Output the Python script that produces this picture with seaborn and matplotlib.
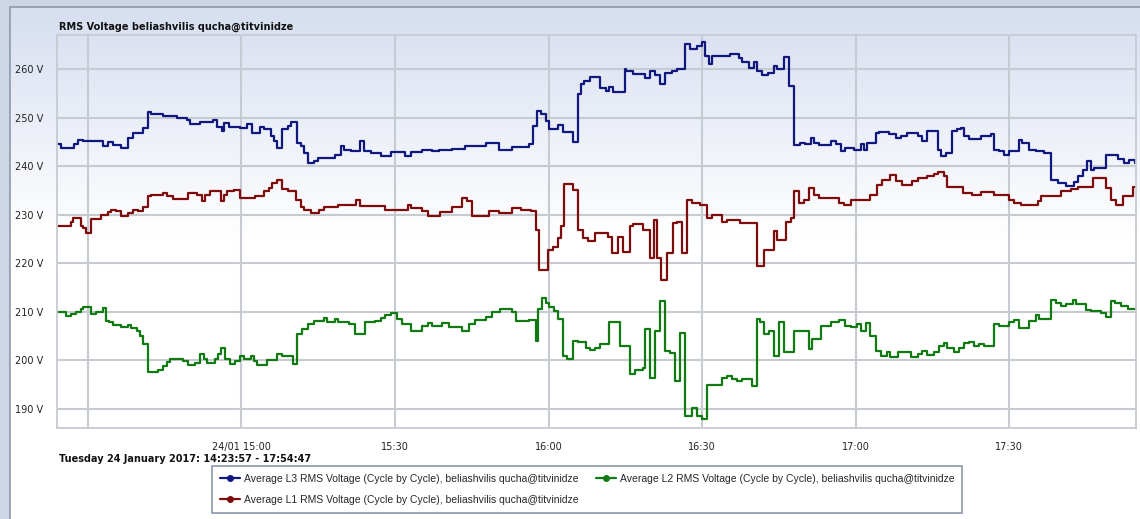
import numpy as np
import pandas as pd
import matplotlib.pyplot as plt
import seaborn as sns
from matplotlib.lines import Line2D
from matplotlib.patches import Rectangle

# Step data: minutes after 14:00 when the value changes, and the value (V)
l3_t = [23.95, 24.7, 27.3, 28.0, 29.0, 32.9, 33.9, 34.9, 36.5, 37.8, 38.8, 40.8, 41.8, 42.4, 44.7, 47.3,
        49.3, 50.0, 51.9, 54.5, 55.2, 56.2, 56.5, 57.5, 59.8, 61.1, 62.1, 63.7, 64.4, 65.7, 66.4, 67.0,
        68.0, 69.0, 69.6, 70.9, 71.6, 72.2, 72.9, 74.2, 74.9, 78.2, 79.5, 80.1, 81.4, 83.1, 84.0, 85.4,
        87.3, 89.3, 91.9, 93.2, 95.2, 97.2, 98.5, 101.1, 103.7, 107.7, 110.3, 112.9, 116.2, 116.9, 117.8,
        118.5, 119.5, 120.1, 121.8, 122.8, 124.7, 125.7, 126.4, 127.0, 128.0, 130.0, 131.3, 131.9, 132.6,
        134.9, 135.2, 136.5, 138.8, 139.8, 140.8, 141.8, 142.8, 144.1, 145.0, 146.7, 147.7, 149.0, 150.0,
        150.6, 151.3, 151.9, 155.5, 157.2, 157.8, 159.1, 160.1, 160.8, 161.8, 162.8, 164.1, 164.7, 166.0,
        167.0, 167.9, 169.2, 170.2, 171.2, 171.8, 172.8, 175.1, 176.1, 177.1, 178.0, 179.7, 181.0, 181.6,
        182.3, 183.9, 184.6, 186.5, 187.8, 188.8, 190.1, 192.1, 193.0, 194.0, 196.0, 196.6, 197.6, 198.9,
        199.9, 200.5, 201.2, 202.2, 204.5, 206.4, 207.1, 208.0, 209.0, 210.0, 212.0, 212.6, 213.9, 215.2,
        216.9, 218.2, 219.5, 221.1, 222.7, 223.4, 224.4, 225.3, 226.0, 226.6, 228.9, 231.2, 232.5, 233.5,
        234.5]
l3_v = [244.5, 243.8, 244.5, 245.4, 245.2, 244.1, 245.0, 244.3, 243.8, 245.9, 246.9, 247.9, 251.2, 250.7, 250.3, 250.0,
        249.5, 248.8, 249.1, 249.5, 248.1, 247.2, 248.9, 248.1, 247.9, 248.8, 246.9, 248.0, 247.6, 246.2, 245.2, 243.8,
        247.6, 248.3, 249.1, 244.8, 244.1, 242.8, 240.6, 241.1, 241.7, 242.4, 244.1, 243.4, 243.1, 245.2, 243.1, 242.8,
        242.1, 242.9, 242.2, 242.9, 243.4, 243.1, 243.4, 243.5, 244.1, 244.8, 243.4, 244.0, 244.5, 248.3, 251.4,
        250.7, 249.3, 247.6, 248.6, 247.0, 245.0, 254.8, 256.9, 257.6, 258.3, 256.2, 255.5, 256.4, 255.2,
        260.1, 259.7, 259.0, 258.1, 259.7, 258.8, 256.9, 259.3, 259.7, 260.1, 265.2, 264.1, 264.8, 265.7,
        262.8, 261.0, 262.8, 263.1, 262.4, 261.4, 260.3, 261.5, 259.7, 258.8, 259.3, 260.7, 260.1, 262.6,
        256.6, 244.3, 244.8, 244.5, 245.9, 244.8, 244.3, 245.2, 244.5, 243.1, 243.8, 243.3, 244.5, 243.3,
        244.8, 246.9, 247.1, 246.6, 245.9, 246.3, 246.8, 246.2, 245.2, 247.2, 243.4, 242.1, 242.8, 247.2,
        247.6, 247.9, 246.2, 245.7, 246.2, 246.6, 243.4, 243.1, 242.4, 243.1, 245.5, 244.8, 243.4, 243.1,
        242.8, 237.2, 236.6, 235.9, 236.7, 237.9, 239.3, 241.0, 239.3, 239.7, 242.4, 241.4, 240.7, 241.2,
        240.6]

l1_t = [23.95, 26.7, 27.0, 28.6, 29.0, 29.6, 30.6, 32.6, 33.9, 34.5, 35.5, 36.5, 37.8, 38.8, 39.8, 40.8,
        41.8, 42.4, 44.7, 45.4, 46.7, 49.6, 51.3, 52.3, 52.9, 53.9, 55.9, 56.5, 57.2, 58.5, 59.8, 62.7,
        64.4, 65.4, 66.0, 67.0, 68.0, 69.0, 70.6, 71.6, 72.3, 73.6, 75.2, 76.2, 78.8, 82.4, 83.1, 88.0,
        92.6, 93.2, 95.2, 96.5, 98.8, 101.1, 103.1, 104.1, 105.0, 108.3, 110.3, 112.9, 114.6, 116.5, 117.5,
        118.2, 119.8, 120.8, 121.8, 122.4, 123.1, 124.7, 125.7, 126.7, 127.7, 129.0, 131.6, 132.3, 133.6,
        134.6, 135.9, 136.5, 138.5, 139.8, 140.6, 141.2, 141.9, 143.1, 144.4, 145.0, 146.0, 147.0, 148.0,
        149.6, 151.0, 151.9, 153.9, 154.9, 157.5, 160.8, 162.1, 164.1, 164.7, 166.4, 167.3, 168.0, 168.9,
        169.9, 170.9, 171.8, 172.8, 176.7, 177.7, 179.0, 182.9, 184.2, 185.2, 186.8, 187.8, 189.1, 191.1,
        192.1, 194.0, 195.3, 196.0, 197.3, 197.9, 200.9, 202.8, 204.5, 207.1, 210.0, 211.0, 212.3, 215.6,
        216.2, 220.1, 222.1, 223.4, 226.3, 228.9, 229.9, 230.9, 232.2, 234.1]
l1_v = [227.7, 228.6, 229.3, 227.7, 227.2, 226.3, 229.1, 230.0, 230.5, 231.0, 230.7, 229.8, 230.3, 231.0, 230.7, 231.7,
        233.8, 234.1, 234.5, 233.8, 233.2, 234.5, 234.1, 232.8, 234.1, 235.0, 232.8, 234.1, 234.8, 235.2, 233.4, 233.8,
        234.8, 235.5, 236.6, 237.1, 235.3, 234.8, 233.1, 231.7, 231.0, 230.3, 231.0, 231.7, 232.1, 233.1, 231.9, 231.0,
        232.0, 231.4, 230.7, 229.8, 230.5, 231.7, 233.4, 232.8, 229.7, 230.7, 230.3, 231.4, 231.0, 230.7, 226.9,
        218.6, 222.8, 223.4, 225.2, 227.6, 236.4, 235.2, 226.9, 225.2, 224.5, 226.2, 225.5, 222.1, 225.5,
        222.4, 227.6, 228.1, 226.9, 221.0, 229.0, 221.0, 216.6, 222.1, 228.3, 228.6, 222.1, 233.1, 232.4,
        232.1, 229.3, 230.0, 228.6, 229.0, 228.4, 219.5, 222.8, 226.6, 224.8, 228.6, 229.3, 234.8, 232.4,
        233.1, 235.5, 234.1, 233.4, 232.4, 232.1, 233.1, 234.1, 236.2, 237.2, 238.1, 236.9, 236.2, 236.9,
        237.6, 237.9, 238.5, 238.8, 237.9, 235.7, 234.5, 234.1, 234.6, 234.1, 233.1, 232.4, 232.1, 232.8,
        233.8, 234.8, 235.3, 235.7, 237.6, 235.5, 233.1, 232.1, 233.8, 235.7]

l2_t = [23.95, 25.7, 26.7, 27.7, 28.6, 29.0, 30.6, 31.6, 32.9, 33.6, 34.2, 34.9, 36.5, 37.8, 38.5, 39.5,
        40.1, 40.8, 41.8, 43.7, 44.7, 45.4, 46.0, 48.6, 49.6, 50.9, 51.9, 52.6, 53.2, 54.9, 55.5, 55.9,
        56.8, 57.8, 58.8, 59.8, 60.5, 61.8, 62.4, 63.1, 65.0, 67.0, 68.0, 70.0, 70.9, 71.9, 72.9, 74.2,
        76.2, 76.8, 78.2, 78.8, 81.1, 82.1, 84.1, 86.0, 87.3, 88.0, 89.3, 90.3, 91.3, 93.2, 95.2, 96.5,
        97.2, 99.1, 100.5, 103.1, 104.4, 105.7, 107.7, 109.0, 110.6, 112.9, 113.6, 116.2, 117.5, 118.0,
        118.8, 119.5, 120.1, 121.1, 121.8, 122.8, 123.7, 124.7, 125.7, 127.3, 128.0, 129.0, 130.0, 131.9,
        133.9, 135.9, 136.9, 138.5, 138.8, 139.8, 140.8, 141.8, 142.8, 143.7, 144.7, 145.7, 146.7, 148.0,
        149.0, 150.0, 151.0, 153.9, 154.9, 155.9, 156.9, 157.8, 159.8, 160.8, 161.4, 162.1, 163.1, 164.1,
        165.0, 166.0, 167.9, 170.9, 171.5, 173.2, 175.1, 176.7, 178.0, 179.0, 180.3, 181.0, 182.0, 182.9,
        183.9, 184.9, 186.2, 186.8, 188.2, 190.8, 192.1, 193.0, 194.0, 195.3, 196.3, 197.3, 197.9, 199.2,
        200.2, 201.2, 202.2, 203.2, 204.1, 205.1, 207.1, 208.0, 210.0, 211.0, 212.0, 213.9, 215.2, 215.9,
        218.2, 219.1, 220.1, 221.1, 222.4, 223.1, 225.0, 226.0, 228.0, 228.9, 229.9, 230.6, 231.9, 233.2]
l2_v = [210.0, 209.2, 209.5, 209.9, 210.5, 211.0, 209.5, 210.0, 210.8, 208.1, 207.8, 207.2, 206.9, 207.3, 206.6, 206.1,
        205.0, 203.3, 197.6, 198.1, 198.8, 199.7, 200.3, 199.9, 199.0, 199.5, 201.4, 200.2, 199.4, 200.2, 201.2, 202.6,
        200.2, 199.2, 199.9, 200.8, 200.2, 200.8, 199.9, 199.0, 200.1, 201.4, 200.8, 199.2, 205.4, 206.4, 207.4, 208.1,
        208.8, 207.9, 208.6, 207.9, 207.4, 205.4, 207.8, 208.1, 208.8, 209.3, 209.7, 208.6, 207.4, 206.1, 207.1, 207.6,
        207.1, 207.7, 206.8, 206.1, 207.4, 208.3, 209.0, 209.9, 210.6, 209.9, 208.1, 208.3, 204.0, 210.6,
        212.8, 211.9, 210.9, 210.2, 208.5, 200.9, 200.3, 204.0, 203.7, 202.6, 202.1, 202.6, 203.3, 207.9,
        203.0, 197.1, 198.1, 198.5, 206.4, 196.4, 206.1, 212.3, 201.9, 201.6, 195.7, 205.7, 188.5, 190.2,
        188.5, 187.9, 195.0, 196.4, 196.8, 196.1, 195.7, 196.2, 194.8, 208.6, 207.9, 205.4, 206.1, 200.9,
        207.9, 201.8, 206.1, 202.4, 204.3, 207.1, 207.9, 208.3, 207.1, 206.8, 207.4, 206.1, 207.7, 205.0,
        201.9, 200.9, 201.7, 200.6, 201.7, 200.6, 201.3, 201.9, 201.0, 201.7, 203.0, 203.5, 202.6, 201.7,
        202.6, 203.5, 203.8, 203.0, 203.3, 203.0, 207.4, 207.1, 207.8, 208.3, 206.6, 208.1, 209.3, 208.5,
        212.5, 211.8, 211.2, 211.6, 212.5, 211.6, 210.4, 210.1, 209.7, 209.0, 212.3, 211.9, 211.1, 210.6]

series_names = ["Average L3 RMS Voltage (Cycle by Cycle), beliashvilis qucha@titvinidze",
                "Average L1 RMS Voltage (Cycle by Cycle), beliashvilis qucha@titvinidze",
                "Average L2 RMS Voltage (Cycle by Cycle), beliashvilis qucha@titvinidze"]
colors = ["#10187e", "#7e0c0c", "#127a12"]

y_ticks = [190, 200, 210, 220, 230, 240, 250, 260]
x_tick_times = ["14:30", "15:00", "15:30", "16:00", "16:30", "17:00", "17:30"]
x_tick_labels = ["", "24/01 15:00", "15:30", "16:00", "16:30", "17:00", "17:30"]

title = "RMS Voltage beliashvilis qucha@titvinidze"
subtitle = "Tuesday 24 January 2017: 14:23:57 - 17:54:47"

day = pd.Timestamp("2017-01-24 14:00:00")
t_start = pd.Timestamp("2017-01-24 14:23:57")
t_end = pd.Timestamp("2017-01-24 17:54:47")

frames = []
for name, ts, vs in zip(series_names, [l3_t, l1_t, l2_t], [l3_v, l1_v, l2_v]):
    times = list(day + pd.to_timedelta(ts, unit="min")) + [t_end]
    vals = list(vs) + [vs[-1]]
    frames.append(pd.DataFrame({"time": times, "voltage": vals, "series": name}))
df = pd.concat(frames, ignore_index=True)

sns.set_theme(style="white")
plt.rcParams["font.family"] = ["DejaVu Sans"]

W, H = 1140, 519
fig = plt.figure(figsize=(W / 100, H / 100), dpi=100)
fig.patch.set_facecolor("#cdd6e4")

# panel with light blue gradient at the top
bg = fig.add_axes([10 / W, 0, 1 - 10 / W, 1 - 7 / H])
bg.axis("off")
grad = np.clip(np.linspace(0, 1, 256) / 0.45, 0, 1)
top_c = np.array([0.84, 0.87, 0.94])
img = top_c[None, :] * (1 - grad[:, None]) + grad[:, None]
bg.imshow(img[:, None, :], aspect="auto", extent=[0, 1, 0, 1], origin="upper")
bg.set_xlim(0, 1)
bg.set_ylim(0, 1)
fig.patches.append(Rectangle((10 / W, -0.01), 1, 1 - 7 / H + 0.01, transform=fig.transFigure,
                             fill=False, edgecolor="#8d99ab", linewidth=1.2))

ax = fig.add_axes([57 / W, 1 - 428 / H, (1136 - 57) / W, (428 - 35) / H])
ax.set_facecolor("none")

sns.lineplot(data=df, x="time", y="voltage", hue="series", palette=dict(zip(series_names, colors)),
             estimator=None, drawstyle="steps-post", linewidth=1.6, legend=False, ax=ax)

ax.set_xlim(t_start, t_end)
ax.set_ylim(186.05, 267.05)
ax.set_yticks(y_ticks)
ax.set_yticklabels([f"{v} V" for v in y_ticks])
ax.set_xticks([pd.Timestamp("2017-01-24 " + s) for s in x_tick_times])
ax.set_xticklabels(x_tick_labels)
ax.set_xlabel("")
ax.set_ylabel("")

grid_c = "#c6cad1"
ax.grid(True, color=grid_c, linewidth=1.5)
ax.set_axisbelow(True)
ax.tick_params(axis="both", length=7, width=1.5, color=grid_c, labelsize=7, labelcolor="#222222", pad=3)
for side in ["top", "right", "left", "bottom"]:
    ax.spines[side].set_visible(True)
    ax.spines[side].set_color(grid_c)
    ax.spines[side].set_linewidth(1.3)

fig.text(59 / W, 1 - 27 / H, title, fontsize=7, fontweight="bold", va="center", ha="left", color="#111111")
fig.text(59 / W, 1 - 459 / H, subtitle, fontsize=7, fontweight="bold", va="center", ha="left", color="#111111")

handles = [Line2D([0], [0], color=c, marker="o", markersize=4, linewidth=1.6) for c in colors]
leg = fig.legend(handles, series_names, ncol=2, loc="upper left",
                 bbox_to_anchor=(212 / W, 1 - 466 / H), bbox_transform=fig.transFigure, borderaxespad=0,
                 prop={"family": "Liberation Sans", "size": 7.5}, frameon=True, fancybox=False,
                 edgecolor="#8a98ac", facecolor="white", framealpha=1, handlelength=1.9,
                 handletextpad=0.4, borderpad=0.75, labelspacing=1.05, columnspacing=1.7)
leg.get_frame().set_linewidth(1.2)

fig.savefig("out.png", dpi=100, facecolor=fig.get_facecolor())
